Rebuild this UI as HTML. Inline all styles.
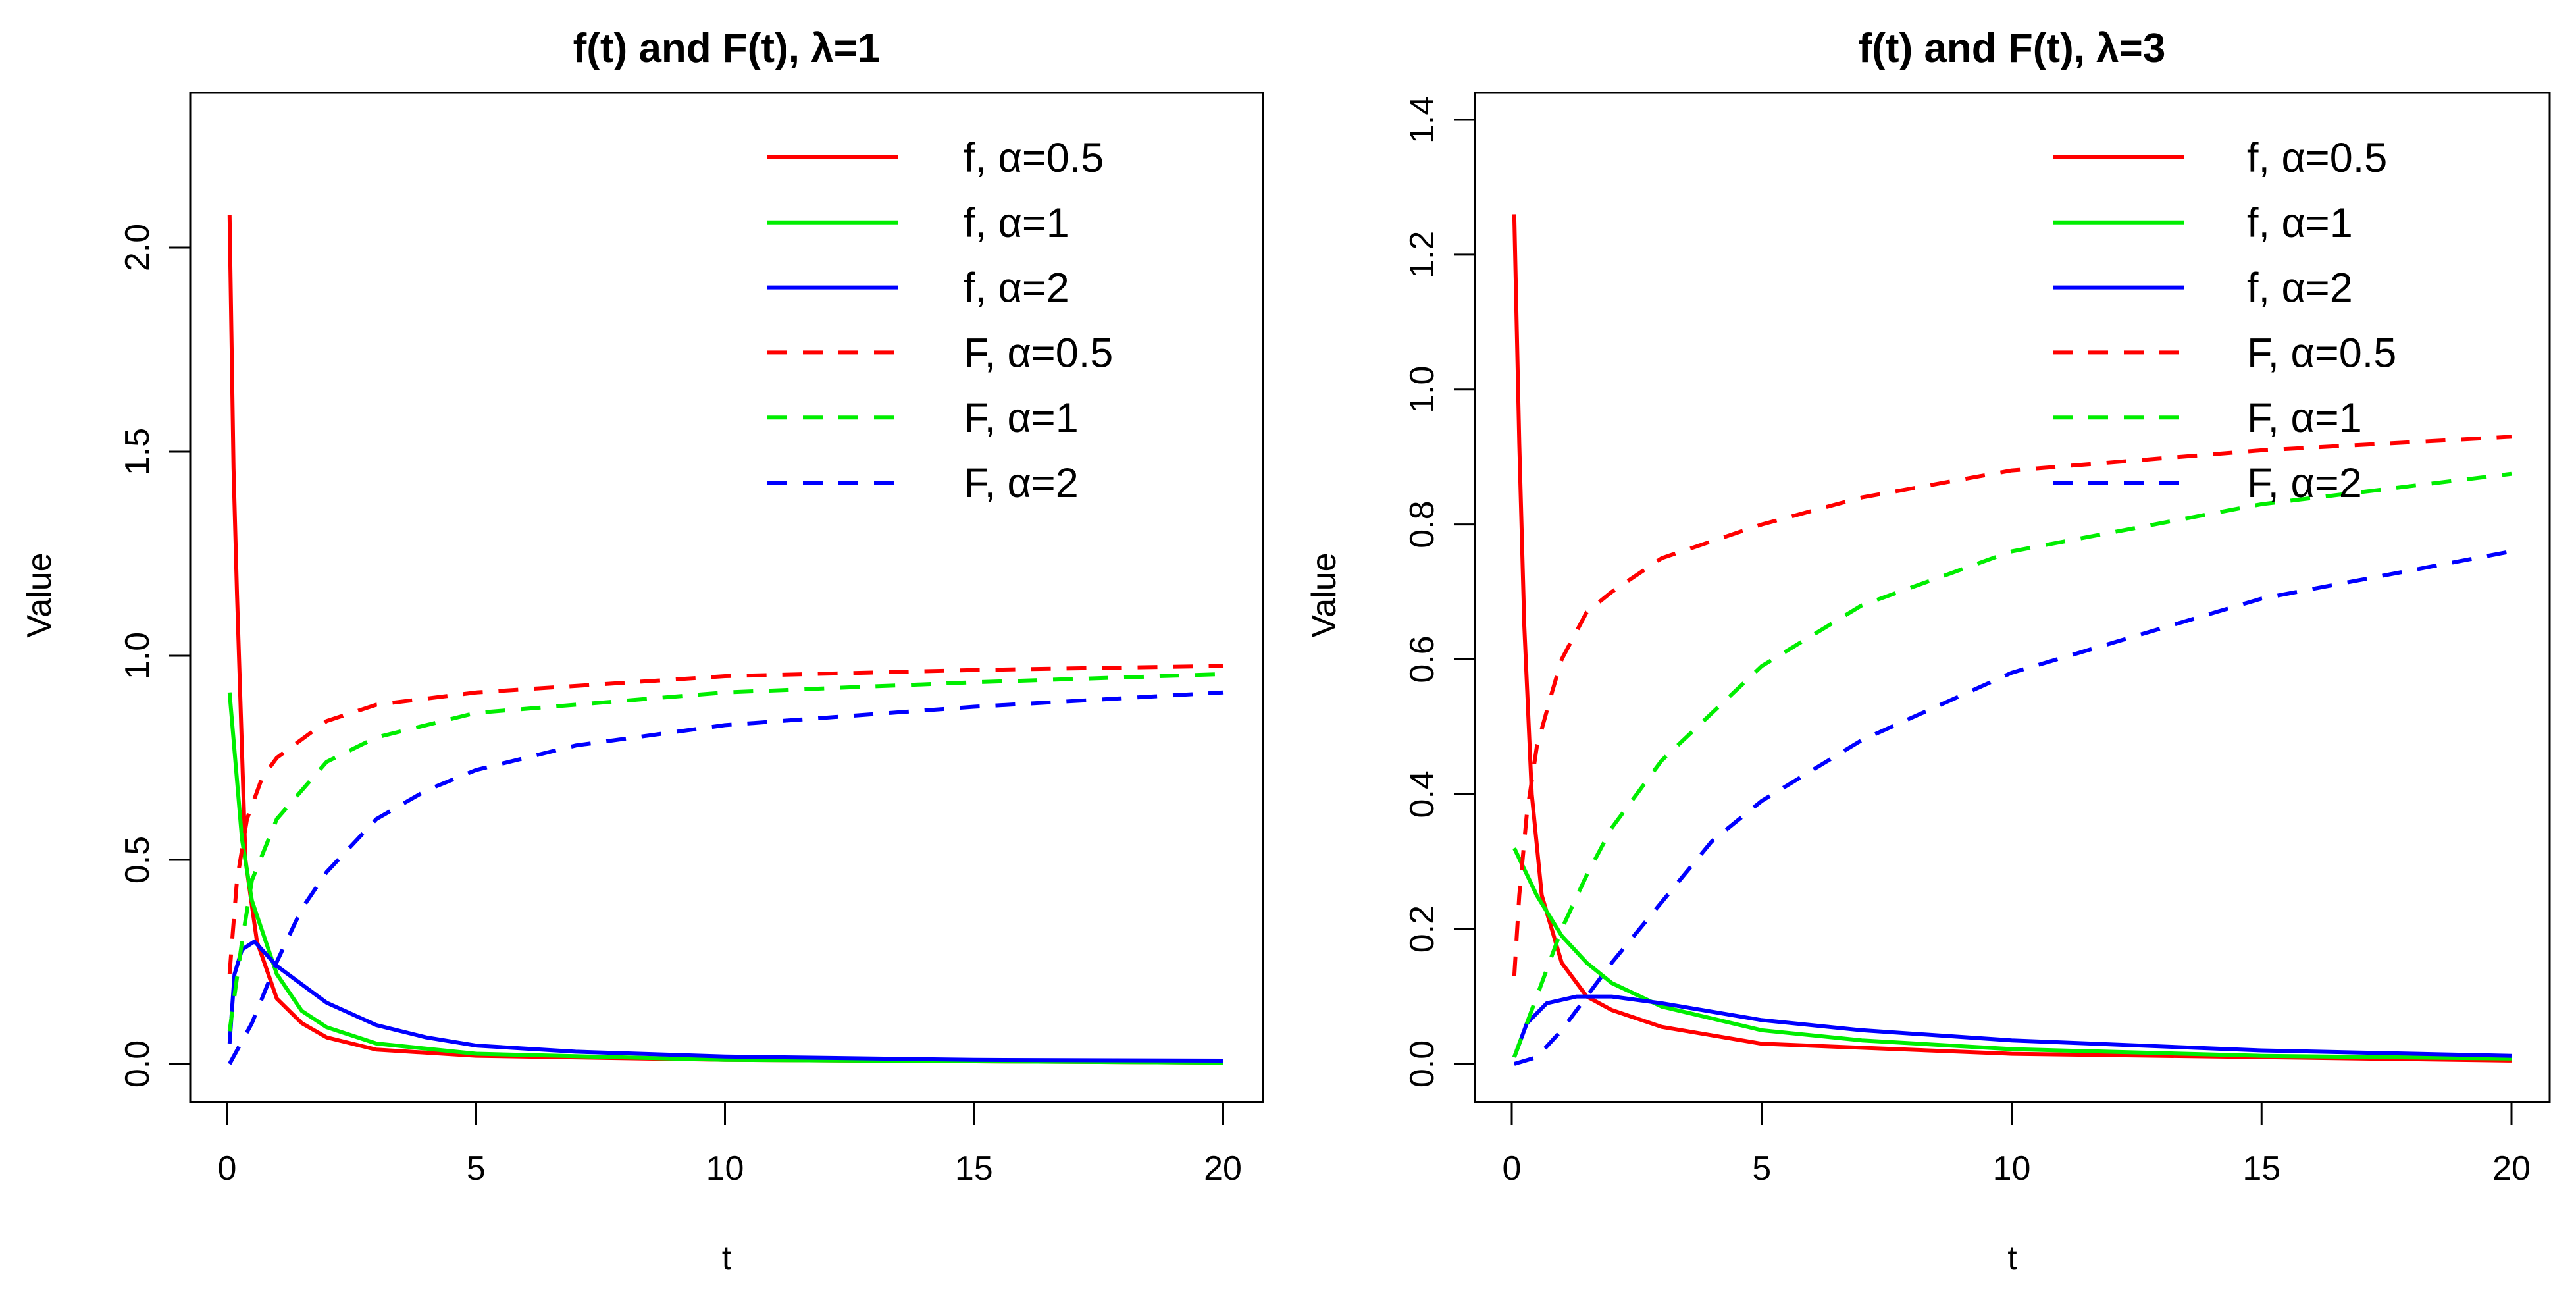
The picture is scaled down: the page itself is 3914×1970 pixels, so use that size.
<!DOCTYPE html>
<html><head><meta charset="utf-8"><style>
html,body{margin:0;padding:0;background:#fff;}
svg{display:block;font-family:"Liberation Sans",Arial,sans-serif;}
</style></head><body>
<svg id="chart" width="3914" height="1970" viewBox="0 0 3914 1970" xmlns="http://www.w3.org/2000/svg"></svg>
<script>
// ---- data ----
const xTicks = [0, 5, 10, 15, 20];
const yTicksLeft = [0.0, 0.5, 1.0, 1.5, 2.0];
const yTicksRight = [0.0, 0.2, 0.4, 0.6, 0.8, 1.0, 1.2, 1.4];
const legendLabels = ["f, α=0.5", "f, α=1", "f, α=2", "F, α=0.5", "F, α=1", "F, α=2"];
const seriesColors = ["#ff0000", "#00ee00", "#0000ff", "#ff0000", "#00ee00", "#0000ff"];
const seriesDashed = [false, false, false, true, true, true];

// lambda = 1 panel
const tL_f05 = [0.05, 0.13, 0.2, 0.37, 0.6, 1, 1.5, 2, 3, 5, 10, 20];
const vL_f05 = [2.08, 1.46, 1.15, 0.5, 0.3, 0.16, 0.1, 0.065, 0.035, 0.02, 0.01, 0.003];
const tL_f1 = [0.05, 0.3, 0.5, 1, 1.5, 2, 3, 5, 10, 20];
const vL_f1 = [0.91, 0.55, 0.4, 0.22, 0.13, 0.09, 0.05, 0.025, 0.01, 0.003];
const tL_f2 = [0.05, 0.15, 0.3, 0.55, 1, 2, 3, 4, 5, 7, 10, 15, 20];
const vL_f2 = [0.05, 0.22, 0.28, 0.3, 0.24, 0.15, 0.095, 0.065, 0.045, 0.03, 0.018, 0.01, 0.008];
const tL_F05 = [0.05, 0.1, 0.2, 0.4, 0.7, 1, 2, 3, 5, 10, 15, 20];
const vL_F05 = [0.22, 0.3, 0.45, 0.6, 0.7, 0.75, 0.84, 0.88, 0.91, 0.95, 0.965, 0.975];
const tL_F1 = [0.05, 0.3, 0.5, 1, 2, 3, 5, 10, 15, 20];
const vL_F1 = [0.08, 0.3, 0.45, 0.6, 0.74, 0.8, 0.86, 0.91, 0.935, 0.955];
const tL_F2 = [0.05, 0.5, 1, 1.5, 2, 3, 4, 5, 7, 10, 15, 20];
const vL_F2 = [0.0, 0.1, 0.25, 0.38, 0.47, 0.6, 0.67, 0.72, 0.78, 0.83, 0.875, 0.91];

// lambda = 3 panel
const tR_f05 = [0.05, 0.15, 0.25, 0.4, 0.6, 1, 1.5, 2, 3, 5, 10, 20];
const vR_f05 = [1.26, 0.92, 0.65, 0.4, 0.25, 0.15, 0.1, 0.08, 0.055, 0.03, 0.015, 0.005];
const tR_f1 = [0.05, 0.5, 1, 1.5, 2, 3, 5, 7, 10, 15, 20];
const vR_f1 = [0.32, 0.25, 0.19, 0.15, 0.12, 0.085, 0.05, 0.035, 0.022, 0.012, 0.008];
const tR_f2 = [0.05, 0.3, 0.7, 1.3, 2, 3, 5, 7, 10, 15, 20];
const vR_f2 = [0.01, 0.06, 0.09, 0.1, 0.1, 0.09, 0.065, 0.05, 0.035, 0.02, 0.012];
const tR_F05 = [0.05, 0.15, 0.3, 0.5, 0.8, 1, 1.5, 2, 3, 5, 7, 10, 15, 20];
const vR_F05 = [0.13, 0.25, 0.37, 0.47, 0.55, 0.6, 0.67, 0.7, 0.75, 0.8, 0.84, 0.88, 0.91, 0.93];
const tR_F1 = [0.05, 0.5, 1, 1.5, 2, 3, 5, 7, 10, 15, 20];
const vR_F1 = [0.01, 0.1, 0.2, 0.28, 0.35, 0.45, 0.59, 0.68, 0.76, 0.83, 0.875];
const tR_F2 = [0.05, 0.5, 1, 1.5, 2, 3, 4, 5, 7, 10, 15, 20];
const vR_F2 = [0.0, 0.01, 0.05, 0.1, 0.15, 0.24, 0.33, 0.39, 0.48, 0.58, 0.69, 0.76];

const NS = "http://www.w3.org/2000/svg";
const svg = document.getElementById("chart");
function mk(tag, attrs, parent) {
  const e = document.createElementNS(NS, tag);
  for (const k in attrs) e.setAttribute(k, attrs[k]);
  (parent || svg).appendChild(e);
  return e;
}

function panel(cfg) {
  const g = mk("g", {});
  
  
  const xs = t => cfg.x0 + (t - 0) * (cfg.x20 - cfg.x0) / 20;
  const ys = v => cfg.y0 + (v - 0) * (cfg.yTop - cfg.y0) / cfg.yTopVal;

  const title = mk("text", {x: cfg.titleX, y: 94, "text-anchor": "middle", "font-size": 62, "font-weight": "bold", fill: "#000"}, g);
  title.textContent = cfg.title;
  
  

  const box = mk("rect", {x: cfg.bx1, y: 141, width: cfg.bx2 - cfg.bx1, height: 1674 - 141, fill: "none", stroke: "#000", "stroke-width": 3}, g);
  
  

  // x axis
  const xa = mk("g", {}, g);
  
  
  mk("line", {x1: xs(xTicks[0]), x2: xs(xTicks[xTicks.length - 1]), y1: 1674, y2: 1674, stroke: "#000", "stroke-width": 3}, xa);
  xTicks.forEach(t => {
    mk("line", {x1: xs(t), x2: xs(t), y1: 1674, y2: 1708, stroke: "#000", "stroke-width": 3}, xa);
    const tx = mk("text", {x: xs(t), y: 1792, "text-anchor": "middle", "font-size": 52, fill: "#000"}, xa);
    tx.textContent = String(t);
    
    
  });
  const xl = mk("text", {x: (cfg.bx1 + cfg.bx2) / 2, y: 1928, "text-anchor": "middle", "font-size": 52, fill: "#000"}, g);
  xl.textContent = "t";
  
  

  // y axis
  const ya = mk("g", {}, g);
  
  
  const yt = cfg.yTicks;
  mk("line", {x1: cfg.bx1, x2: cfg.bx1, y1: ys(yt[0]), y2: ys(yt[yt.length - 1]), stroke: "#000", "stroke-width": 3}, ya);
  yt.forEach(v => {
    mk("line", {x1: cfg.bx1 - 32, x2: cfg.bx1, y1: ys(v), y2: ys(v), stroke: "#000", "stroke-width": 3}, ya);
    const lx = cfg.bx1 - 80, ly = ys(v);
    const tx = mk("text", {x: lx, y: ly, "text-anchor": "middle", "dominant-baseline": "central", "font-size": 52, fill: "#000", transform: `rotate(-90 ${lx} ${ly})`}, ya);
    tx.textContent = v.toFixed(1);
    
    
  });
  const vx = cfg.bx1 - 229, vy = 904;
  const yl = mk("text", {x: vx, y: vy, "text-anchor": "middle", "dominant-baseline": "central", "font-size": 52, fill: "#000", transform: `rotate(-90 ${vx} ${vy})`}, g);
  yl.textContent = "Value";
  
  

  // series
  const names = ["f-alpha-0.5", "f-alpha-1", "f-alpha-2", "cdf-alpha-0.5", "cdf-alpha-1", "cdf-alpha-2"];
  cfg.series.forEach((s, i) => {
    const pts = s[0].map((t, j) => xs(t).toFixed(1) + "," + ys(s[1][j]).toFixed(1)).join(" ");
    const p = mk("polyline", {points: pts, fill: "none", stroke: seriesColors[i], "stroke-width": 6, "stroke-linejoin": "round"}, g);
    if (seriesDashed[i]) p.setAttribute("stroke-dasharray", "30 24");
    
    
  });

  // legend
  const lg = mk("g", {}, g);
  
  
  legendLabels.forEach((lab, i) => {
    const y = 239 + i * 98.8;
    const l = mk("line", {x1: cfg.lx1, x2: cfg.lx2, y1: y, y2: y, stroke: seriesColors[i], "stroke-width": 6}, lg);
    if (seriesDashed[i]) l.setAttribute("stroke-dasharray", "30 24");
    
    
    const tx = mk("text", {x: cfg.ltx, y: y + 22, "font-size": 63, fill: "#000"}, lg);
    tx.textContent = lab;
    
    
  });
}

panel({
  name: "panel-lambda-1", title: "f(t) and F(t), λ=1", titleX: 1104,
  bx1: 289, bx2: 1919, x0: 345, x20: 1858, y0: 1616, yTop: 376, yTopVal: 2.0,
  yTicks: yTicksLeft, lx1: 1166, lx2: 1364, ltx: 1464,
  series: [[tL_f05, vL_f05], [tL_f1, vL_f1], [tL_f2, vL_f2], [tL_F05, vL_F05], [tL_F1, vL_F1], [tL_F2, vL_F2]]
});
panel({
  name: "panel-lambda-3", title: "f(t) and F(t), λ=3", titleX: 3057,
  bx1: 2241, bx2: 3874, x0: 2297, x20: 3816, y0: 1616, yTop: 182, yTopVal: 1.4,
  yTicks: yTicksRight, lx1: 3119, lx2: 3318, ltx: 3414,
  series: [[tR_f05, vR_f05], [tR_f1, vR_f1], [tR_f2, vR_f2], [tR_F05, vR_F05], [tR_F1, vR_F1], [tR_F2, vR_F2]]
});
</script>
</body></html>
